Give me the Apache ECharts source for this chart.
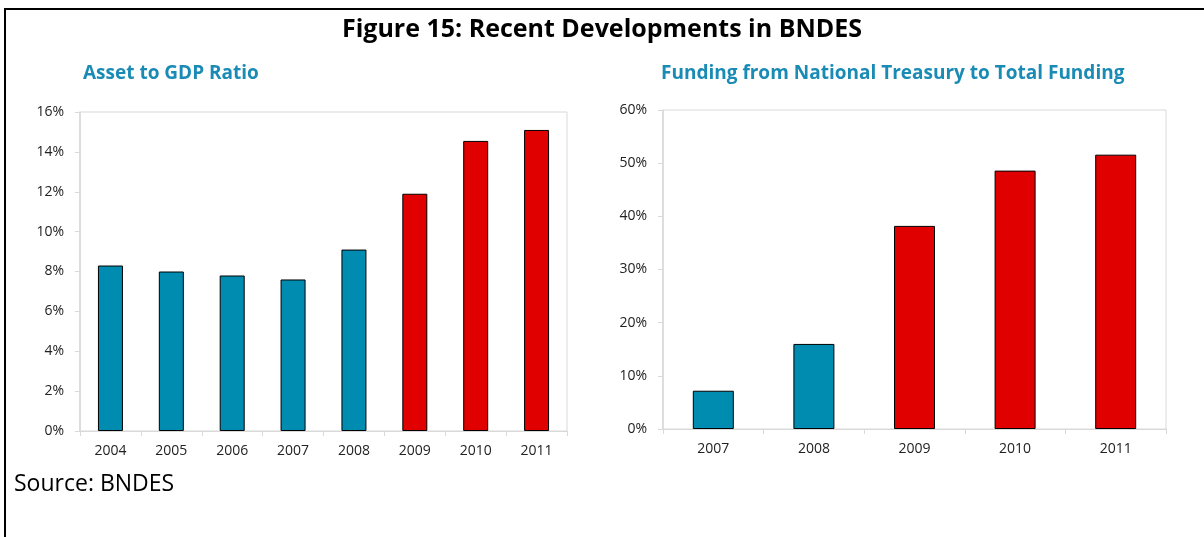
<!DOCTYPE html>
<html lang="en">
<head>
    <meta charset="utf-8">
    <title>Figure 15: Recent Developments in BNDES</title>
    <script src="https://cdn.jsdelivr.net/npm/echarts@6/dist/echarts.min.js"></script>
    <style>
        html, body { margin: 0; padding: 0; background: #fff; }
        #main { width: 1204px; height: 537px; }
    </style>
</head>
<body>
<div id="main"></div>
<script>
    // left panel: asset to GDP ratio (%)
    var assetYears = ['2004', '2005', '2006', '2007', '2008', '2009', '2010', '2011'];
    var assetToGdp = [8.3, 8.0, 7.8, 7.6, 9.1, 11.9, 14.55, 15.1];

    // right panel: treasury funding share of total funding (%)
    var fundYears = ['2007', '2008', '2009', '2010', '2011'];
    var treasuryShare = [7.2, 16.0, 38.2, 48.6, 51.6];

    var teal = '#008bb0';
    var red = '#e00000';
    var frame = '#d9d9d9';
    var font = '"Open Sans", "Noto Sans", sans-serif';

    // from 2009 on the bars are red
    function barColor(p) {
        return p.name >= '2009' ? red : teal;
    }

    function pct(v) { return v + '%'; }

    function xAxis(idx, cats) {
        return {
            type: 'category', gridIndex: idx, data: cats,
            axisLine: { lineStyle: { color: frame } },
            axisTick: { show: true, length: 5, lineStyle: { color: frame } },
            axisLabel: { color: '#222', fontSize: 14, fontFamily: font, margin: 13 }
        };
    }

    function yAxis(idx, max, step) {
        return {
            type: 'value', gridIndex: idx, min: 0, max: max, interval: step,
            axisLine: { show: true, lineStyle: { color: frame, width: 1.5 } },
            axisTick: { show: true, length: 5, lineStyle: { color: frame } },
            splitLine: { show: false },
            axisLabel: { color: '#222', fontSize: 14, fontFamily: font, margin: 16, formatter: pct }
        };
    }

    var chart = echarts.init(document.getElementById('main'));
    chart.setOption({
        animation: false,
        backgroundColor: '#fff',
        title: [
            {
                text: 'Figure 15: Recent Developments in BNDES',
                left: 'center', top: 12,
                textStyle: { fontSize: 25, fontWeight: 'bold', color: '#000', fontFamily: font }
            },
            {
                text: 'Asset to GDP Ratio',
                left: 78, top: 59,
                textStyle: { fontSize: 19, fontWeight: 'bold', color: '#1a8bb5', fontFamily: font }
            },
            {
                text: 'Funding from National Treasury to Total Funding',
                left: 656, top: 59,
                textStyle: { fontSize: 19, fontWeight: 'bold', color: '#1a8bb5', fontFamily: font }
            }
        ],
        grid: [
            { left: 80, right: 637, top: 112, bottom: 106, show: true, borderColor: frame, borderWidth: 1 },
            { left: 663, right: 38, top: 110, bottom: 108, show: true, borderColor: frame, borderWidth: 1 }
        ],
        xAxis: [xAxis(0, assetYears), xAxis(1, fundYears)],
        yAxis: [yAxis(0, 16, 2), yAxis(1, 60, 10)],
        series: [
            {
                type: 'bar', xAxisIndex: 0, yAxisIndex: 0,
                data: assetToGdp, barWidth: 25,
                itemStyle: { color: barColor, borderColor: '#000', borderWidth: 1 }
            },
            {
                type: 'bar', xAxisIndex: 1, yAxisIndex: 1,
                data: treasuryShare, barWidth: 41,
                itemStyle: { color: barColor, borderColor: '#000', borderWidth: 1 }
            }
        ],
        graphic: [
            {
                // outer frame: top and left edges only
                type: 'polyline',
                shape: { points: [[5, 537], [5, 9], [1204, 9]] },
                style: { stroke: '#000', lineWidth: 2, fill: null }
            },
            {
                type: 'text', left: 14, top: 473,
                style: { text: 'Source: BNDES', fontSize: 23, fontFamily: font, fill: '#000' }
            }
        ]
    });
</script>
</body>
</html>
